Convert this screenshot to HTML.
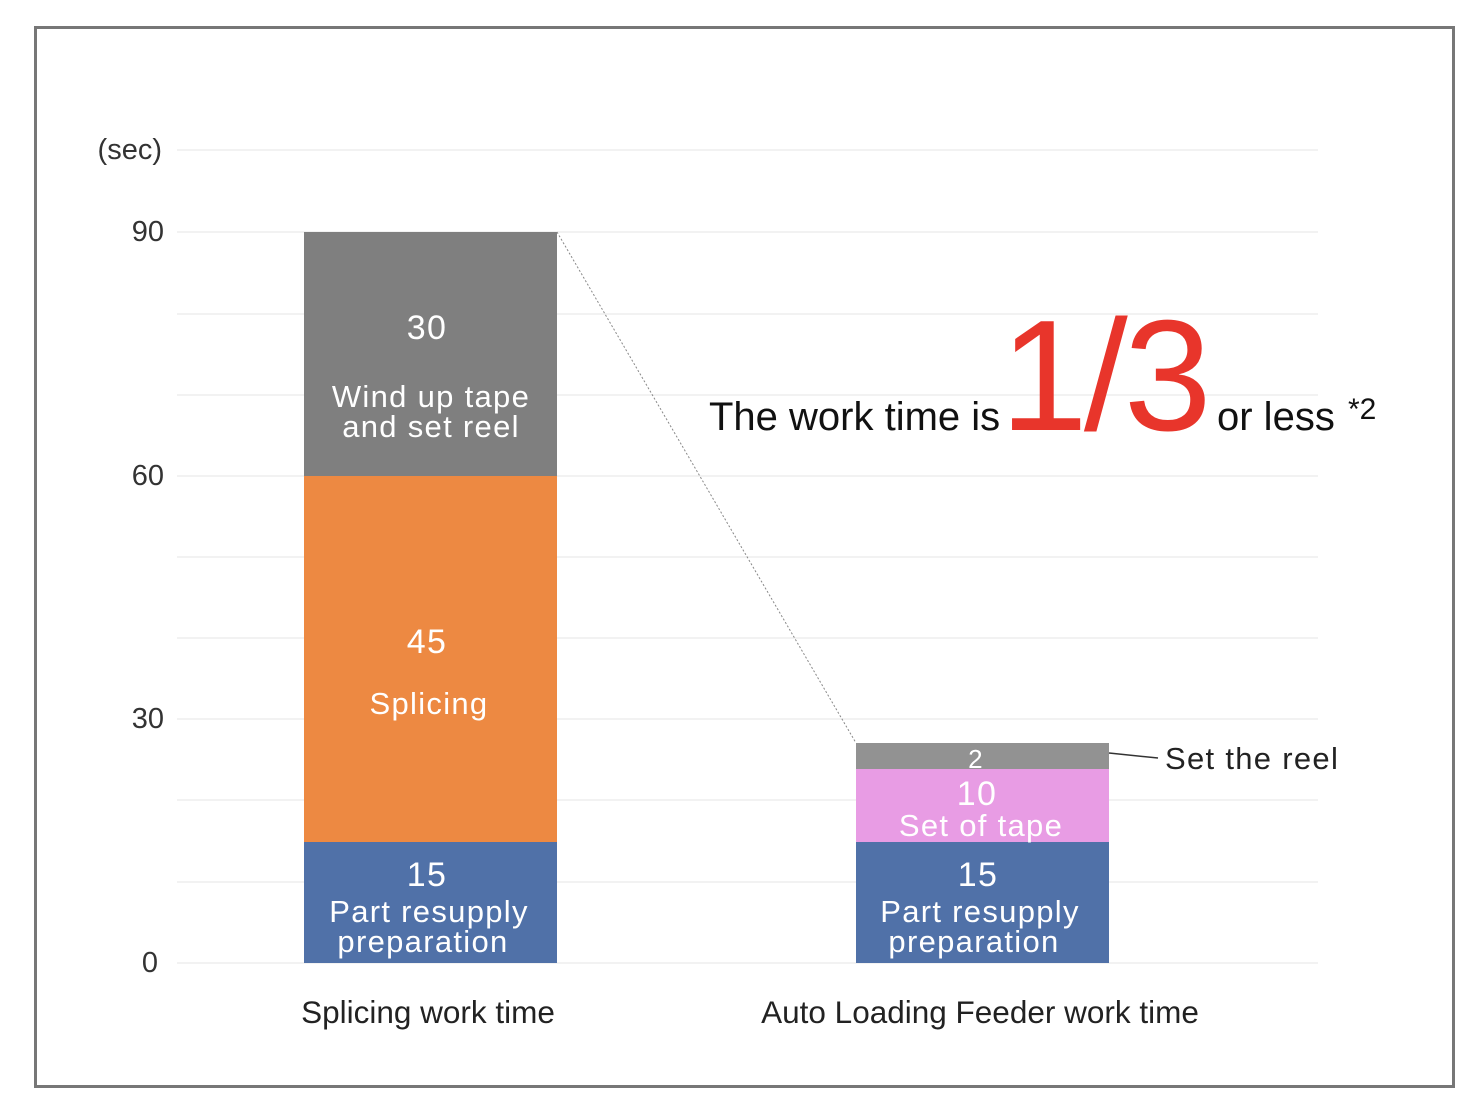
<!DOCTYPE html>
<html><head><meta charset="utf-8"><style>
html,body{margin:0;padding:0;background:#fff;}
svg{display:block;}
</style></head><body>
<svg width="1482" height="1120" viewBox="0 0 1482 1120" xmlns="http://www.w3.org/2000/svg" font-family="Liberation Sans, sans-serif">
<rect x="0" y="0" width="1482" height="1120" fill="#fff"/>
<rect x="35.5" y="27.5" width="1418" height="1059" fill="#fff" stroke="#777" stroke-width="3"/>
<g stroke="#eeeeee" stroke-width="1.5">
<line x1="177" y1="150" x2="1318" y2="150"/>
<line x1="177" y1="232" x2="1318" y2="232"/>
<line x1="177" y1="314" x2="1318" y2="314"/>
<line x1="177" y1="395" x2="1318" y2="395"/>
<line x1="177" y1="476" x2="1318" y2="476"/>
<line x1="177" y1="557" x2="1318" y2="557"/>
<line x1="177" y1="638" x2="1318" y2="638"/>
<line x1="177" y1="719" x2="1318" y2="719"/>
<line x1="177" y1="800" x2="1318" y2="800"/>
<line x1="177" y1="882" x2="1318" y2="882"/>
<line x1="177" y1="963" x2="1318" y2="963"/>
</g>
<g fill="#333" font-size="29" text-anchor="end">
<text x="162" y="159">(sec)</text>
<text x="164" y="241">90</text>
<text x="164" y="485">60</text>
<text x="164" y="728">30</text>
<text x="158" y="972">0</text>
</g>
<rect x="304" y="232" width="253" height="244" fill="#7f7f7f"/>
<rect x="304" y="476" width="253" height="366" fill="#ed8942"/>
<rect x="304" y="842" width="253" height="121" fill="#5071a8"/>
<rect x="856" y="743" width="253" height="26" fill="#929292"/>
<rect x="856" y="769" width="253" height="73" fill="#e89ce4"/>
<rect x="856" y="842" width="253" height="121" fill="#5071a8"/>
<line x1="557" y1="232" x2="856" y2="743" stroke="#888" stroke-width="1" stroke-dasharray="2,2"/>
<line x1="1109" y1="753" x2="1158" y2="758" stroke="#333" stroke-width="1.5"/>
<g fill="#fff" font-size="31" text-anchor="middle" letter-spacing="1.3">
<text x="427" y="339" font-size="34">30</text>
<text x="431" y="407">Wind up tape</text>
<text x="431" y="437">and set reel</text>
<text x="427" y="653" font-size="34">45</text>
<text x="429" y="714">Splicing</text>
<text x="427" y="886" font-size="34">15</text>
<text x="429" y="922">Part resupply</text>
<text x="423" y="952">preparation</text>
<text x="976" y="768" font-size="26">2</text>
<text x="977" y="805" font-size="34">10</text>
<text x="981" y="836">Set of tape</text>
<text x="978" y="886" font-size="34">15</text>
<text x="980" y="922">Part resupply</text>
<text x="974" y="952">preparation</text>
</g>
<text x="1165" y="769" font-size="31" fill="#222" letter-spacing="1.3">Set the reel</text>
<text x="709" y="430" font-size="40" fill="#111">The work time is</text>
<text x="1000" y="430" font-size="158" fill="#e8352b" letter-spacing="-4">1/3</text>
<text x="1217" y="430" font-size="40" fill="#111">or less</text>
<text x="1348" y="419" font-size="30" fill="#111">*2</text>
<g fill="#222" font-size="31.5" text-anchor="middle">
<text x="428" y="1023">Splicing work time</text>
<text x="980" y="1023">Auto Loading Feeder work time</text>
</g>
</svg>
</body></html>
